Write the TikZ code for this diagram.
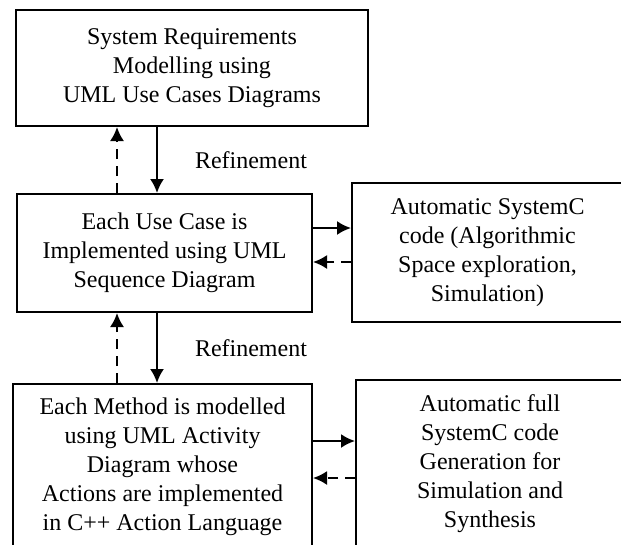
\documentclass[tikz,border=0pt]{standalone}
\usepackage{fontspec}
\setmainfont{Liberation Serif}
\usetikzlibrary{arrows.meta}

\begin{document}
\begin{tikzpicture}[x=1pt,y=1pt,>={Latex[length=14pt,width=14pt]},line width=2pt,
    box/.style={draw,align=center,inner sep=0pt,font=\fontsize{24}{29}\selectfont},
    back/.style={->,dash pattern=on 10pt off 7pt},
    refine/.style={right=37pt,inner sep=0pt,font=\fontsize{24}{29}\selectfont}]
    \useasboundingbox (0,0) rectangle (621,-544);
    \clip (0,0) rectangle (621,-544);
    \node[box,minimum width=352pt,minimum height=116pt] (req) at (192,-68)
        {System Requirements\\Modelling using\\UML Use Cases Diagrams};
    \node[box,minimum width=295pt,minimum height=118pt] (seq) at (164.5,-253)
        {Each Use Case is\\Implemented using UML\\Sequence Diagram};
    \node[box,minimum width=271pt,minimum height=139pt] (algo) at (487.5,-252.5)
        {Automatic SystemC\\code (Algorithmic\\Space exploration,\\Simulation)};
    \node[box,minimum width=299pt,minimum height=166pt] (act) at (162.5,-467)
        {Each Method is modelled\\using UML Activity\\Diagram whose\\Actions are implemented\\in C++ Action Language};
    \node[box,minimum width=268pt,minimum height=168pt] (gen) at (490,-464)
        {Automatic full\\SystemC code\\Generation for\\Simulation and\\Synthesis};
    \coordinate (refx) at (157,0);
    \coordinate (backx) at (117,0);
    \coordinate (up1) at (0,-228);
    \coordinate (dn1) at (0,-262);
    \coordinate (up2) at (0,-441);
    \coordinate (dn2) at (0,-478);
    % refinement steps
    \draw[->] (req.south -| refx) -- (seq.north -| refx) node[midway,refine] {Refinement};
    \draw[back] (seq.north -| backx) -- (req.south -| backx);
    \draw[->] (seq.south -| refx) -- (act.north -| refx) node[midway,refine] {Refinement};
    \draw[back] (act.north -| backx) -- (seq.south -| backx);
    % code generation
    \draw[->] (seq.east |- up1) -- (algo.west |- up1);
    \draw[back] (algo.west |- dn1) -- (seq.east |- dn1);
    \draw[->] (act.east |- up2) -- (gen.west |- up2);
    \draw[back] (gen.west |- dn2) -- (act.east |- dn2);
\end{tikzpicture}
\end{document}
